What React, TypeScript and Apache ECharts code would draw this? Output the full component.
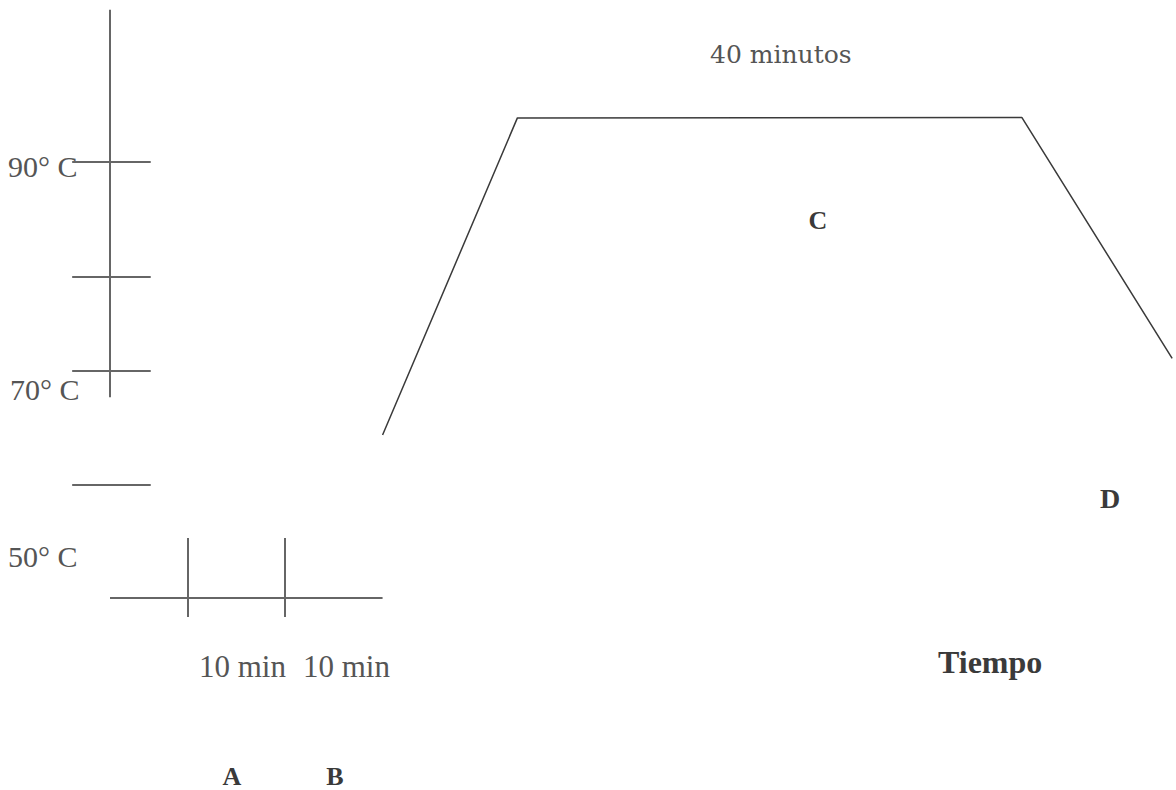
import React, { useEffect, useRef } from "react";
import * as echarts from "echarts";

// ---- data (x: minutes, y: °C) ----
const tempAxisExtent = [67.6, 104.5];
const tempTicks = [90, 79.05, 70.1, 59.24];
const tempTickSpan = [-3.9, 4.2];
const baselineTemp = 48.48;
const baselineSpan = [0, 28.1];
const timeTicks = [8, 18];
const timeTickSpan = [46.67, 54.19];
const profileTime = [28.1, 42, 94, 109.5];
const profileTemp = [64, 94.2, 94.25, 71.3];

const tempLabels = ["90° C", "70° C", "50° C"];
const timeLabels = ["10 min", "10 min"];
const stageLabels = ["A", "B", "C", "D"];
const plateauLabel = "40 minutos";
const xAxisTitle = "Tiempo";

const SERIF = '"Liberation Serif", "Times New Roman", serif';

export default function App() {
  const ref = useRef<HTMLDivElement>(null);
  useEffect(() => {
    document.body.style.margin = "0";
    if (!ref.current) return;
    const chart = echarts.init(ref.current, null, { renderer: "svg" });

    const segs: any[] = [];
    segs.push({ coords: [[0, tempAxisExtent[0]], [0, tempAxisExtent[1]]] });
    tempTicks.forEach((t) => segs.push({ coords: [[tempTickSpan[0], t], [tempTickSpan[1], t]] }));
    segs.push({ coords: [[baselineSpan[0], baselineTemp], [baselineSpan[1], baselineTemp]] });
    timeTicks.forEach((m) => segs.push({ coords: [[m, timeTickSpan[0]], [m, timeTickSpan[1]]] }));

    const grayText = "#555";
    const darkText = "#3a3a3a";
    const txt = (text: string, x: number, y: number, size: number, opts: any = {}) => ({
      type: "text",
      x,
      y,
      style: {
        text,
        fill: opts.fill || grayText,
        fontFamily: opts.family || SERIF,
        fontSize: size,
        fontWeight: opts.weight || "normal",
        align: opts.align || "left",
        verticalAlign: "middle",
      },
    });

    chart.setOption({
      animation: false,
      backgroundColor: "#fff",
      grid: { left: 13, top: 4.5, width: 1164, height: 787.5, outerBoundsMode: "none" },
      xAxis: { type: "value", min: -10, max: 110, show: false },
      yAxis: { type: "value", min: 30, max: 105, show: false },
      series: [
        {
          type: "lines",
          coordinateSystem: "cartesian2d",
          data: segs,
          lineStyle: { color: "#666", width: 2, opacity: 1 },
          silent: true,
        },
        {
          type: "line",
          data: profileTime.map((t, i) => [t, profileTemp[i]]),
          showSymbol: false,
          lineStyle: { color: "#3a3a3a", width: 1.5 },
          clip: false,
        },
      ],
      graphic: [
        txt(tempLabels[0], 8, 166, 30),
        txt(tempLabels[1], 10, 389, 30),
        txt(tempLabels[2], 8, 556, 30),
        txt(timeLabels[0], 199, 666, 31),
        txt(timeLabels[1], 303, 666, 31),
        txt(stageLabels[0], 232, 776, 26, { weight: "bold", align: "center", fill: darkText }),
        txt(stageLabels[1], 335, 776, 26, { weight: "bold", align: "center", fill: darkText }),
        txt(stageLabels[2], 818, 220, 26, { weight: "bold", align: "center", fill: darkText }),
        txt(stageLabels[3], 1110, 498, 28, { weight: "bold", align: "center", fill: darkText }),
        txt(plateauLabel, 710, 54, 25, { family: '"DejaVu Serif", serif' }),
        txt(xAxisTitle, 938, 662, 32, { weight: "bold", fill: darkText }),
      ],
    });
    return () => chart.dispose();
  }, []);
  return <div ref={ref} style={{ width: 1176, height: 790 }} />;
}
